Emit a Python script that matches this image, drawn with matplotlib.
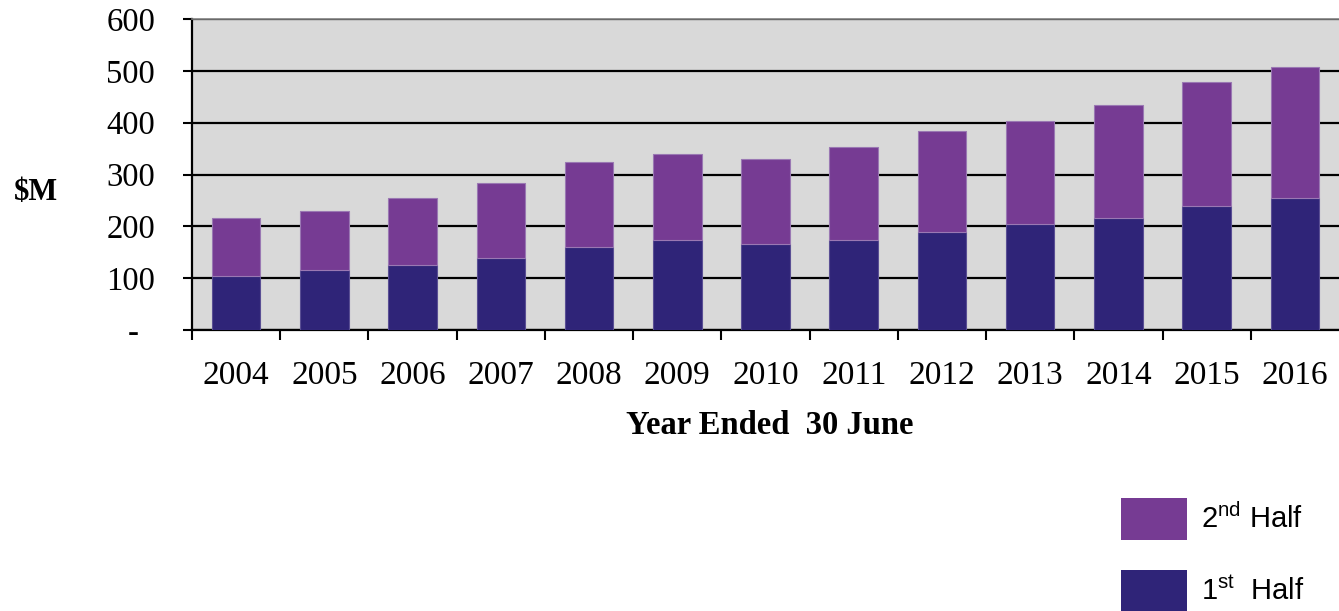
import numpy as np
import matplotlib
matplotlib.use("Agg")
import matplotlib.pyplot as plt
from matplotlib.patches import Patch

plt.rcParams['mathtext.fontset'] = 'custom'
plt.rcParams['mathtext.rm'] = 'Liberation Sans'

years = ['2004', '2005', '2006', '2007', '2008', '2009', '2010',
         '2011', '2012', '2013', '2014', '2015', '2016']
first_half = [104, 116, 125, 139, 160, 174, 165, 174, 189, 205, 216, 240, 254]
totals = [216, 230, 255, 284, 324, 339, 329, 354, 384, 403, 434, 478, 507]
second_half = [t - f for t, f in zip(totals, first_half)]
y_ticks = [0, 100, 200, 300, 400, 500, 600]
y_labels = ['-  ', '100', '200', '300', '400', '500', '600']

c_first = '#2f2478'
c_second = '#763b93'
serif = 'Liberation Serif'

fig = plt.figure(figsize=(13.39, 6.11), dpi=100)
ax = fig.add_axes([192/1339, 1 - 330/611, 1147/1339, 311/611])
ax.set_facecolor('#d9d9d9')

x = np.arange(len(years))
ax.bar(x, first_half, width=0.55, color=c_first, edgecolor='#5a4f94', linewidth=0.8, zorder=3)
ax.bar(x, second_half, width=0.55, bottom=first_half, color=c_second,
       edgecolor='#9a78b3', linewidth=0.8, zorder=3)

ax.set_xlim(-0.5, len(years) - 0.5)
ax.set_ylim(0, 600)
ax.set_yticks(y_ticks)
ax.set_yticklabels(y_labels, fontfamily=serif, fontsize=23.5)
ax.set_xticks(x)
ax.set_xticklabels(years, fontfamily=serif, fontsize=24)
ax.set_xticks(np.arange(len(years)) - 0.5, minor=True)

ax.tick_params(axis='x', which='major', length=0, pad=22)
ax.tick_params(axis='x', which='minor', length=7.5, width=1.5, direction='out')
ax.tick_params(axis='y', length=6.5, width=1.5, direction='out', pad=20)

ax.yaxis.grid(True, color='black', linewidth=1.6, zorder=1)
ax.set_axisbelow(True)

for s in ['left', 'bottom']:
    ax.spines[s].set_linewidth(1.6)
    ax.spines[s].set_color('black')
ax.spines['top'].set_color('#808080')
ax.spines['top'].set_linewidth(1.2)
ax.spines['right'].set_visible(False)

fig.text(770/1339, 1 - 426/611, 'Year Ended  30 June', fontfamily=serif,
         fontweight='bold', fontsize=23.5, ha='center', va='center')
fig.text(36/1339, 1 - 192/611, '$M', fontfamily=serif, fontweight='bold',
         fontsize=22, ha='center', va='center')

handles = [Patch(facecolor=c_second), Patch(facecolor=c_first)]
labels = ['2$^{\\mathrm{nd}}$ Half', '1$^{\\mathrm{st}}$  Half']
fig.legend(handles, labels, loc='upper left',
           bbox_to_anchor=(1121/1339, 1 - 498/611), bbox_transform=fig.transFigure,
           frameon=False, borderpad=0, borderaxespad=0,
           handlelength=2.25, handleheight=1.85, handletextpad=0.5,
           labelspacing=1.02, prop={'family': 'Liberation Sans', 'size': 21})

fig.savefig('out.png', dpi=100)
